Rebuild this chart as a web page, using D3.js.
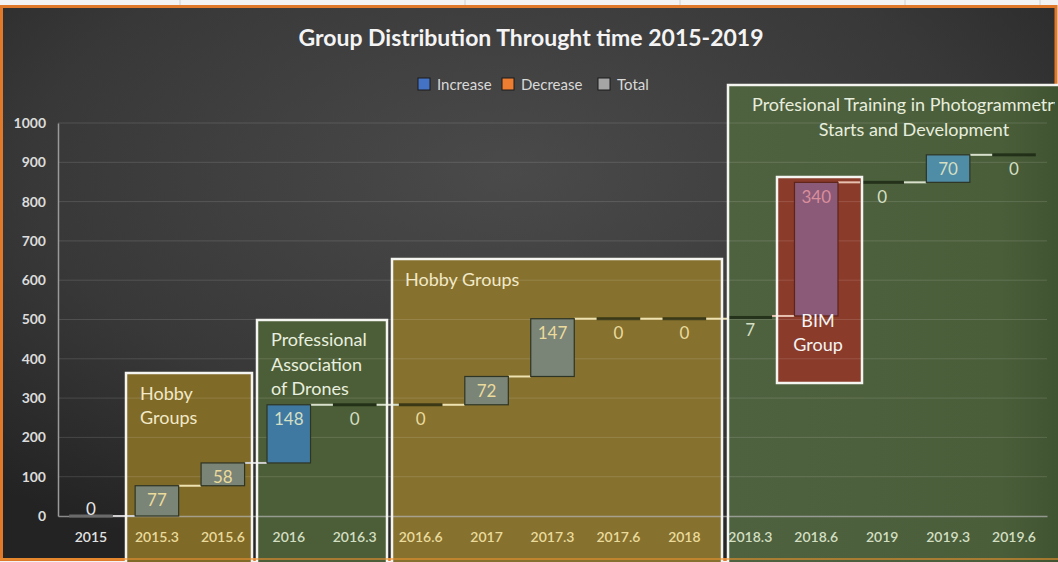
<!DOCTYPE html>
<html><head><meta charset="utf-8">
<script src="https://cdn.jsdelivr.net/npm/d3@7"></script>
<style>html,body{margin:0;padding:0;background:#fff;}svg{display:block;font-family:Lato,"Open Sans",sans-serif;}</style>
</head><body>
<svg id="c" width="1058" height="562"></svg>
<script>
// ---- data ----
const categories = ["2015","2015.3","2015.6","2016","2016.3","2016.6","2017","2017.3","2017.6","2018","2018.3","2018.6","2019","2019.3","2019.6"];
const changes = [0,77,58,148,0,0,72,147,0,0,7,340,0,70,0];
const yTicks = [0,100,200,300,400,500,600,700,800,900,1000];
const legendItems = ["Increase","Decrease","Total"];
const title = "Group Distribution Throught time 2015-2019";
const boxTexts = [
  ["Hobby","Groups"],
  ["Professional","Association","of Drones"],
  ["Hobby Groups"],
  ["Profesional Training in Photogrammetry","Starts and Development"],
  ["BIM","Group"]
];

// ---- layout ----
const W = 1058, H = 562;
const svg = d3.select("#c");
const defs = svg.append("defs");
const rg = defs.append("radialGradient").attr("id","bg").attr("cx","0.48").attr("cy","0.3").attr("r","0.75");
rg.append("stop").attr("offset","0").attr("stop-color","#4a4a4a");
rg.append("stop").attr("offset","0.6").attr("stop-color","#383838");
rg.append("stop").attr("offset","1").attr("stop-color","#232323");
const gg = defs.append("linearGradient").attr("id","greenTrain").attr("x1","0").attr("x2","1");
gg.append("stop").attr("offset","0").attr("stop-color","#4f6240");
gg.append("stop").attr("offset","0.8").attr("stop-color","#4a5e3a");
gg.append("stop").attr("offset","1").attr("stop-color","#3f5230");
defs.append("clipPath").attr("id","frameClip").append("rect").attr("x",0).attr("y",0).attr("width",1055).attr("height",H);

// spreadsheet strip
svg.append("rect").attr("width",W).attr("height",H).attr("fill","#f3f3f3");
[180,465,680,905,1040].forEach(x=>svg.append("line").attr("x1",x).attr("x2",x).attr("y1",0).attr("y2",7).attr("stroke","#d0d0d0"));
// chart frame
svg.append("rect").attr("x",1.5).attr("y",6.5).attr("width",W-3.5).attr("height",553).attr("fill","url(#bg)")
  .attr("stroke","#e07a2a").attr("stroke-width",3);

const x = d3.scaleBand().domain(categories).range([58,1047]).paddingInner(0.34).paddingOuter(0.17);
const y = d3.scaleLinear().domain([0,1000]).range([516,123]);

// waterfall stacks
let run = 0;
const bars = categories.map((c,i)=>{const s=run; run+=changes[i]; return {cat:c, v:changes[i], start:s, end:run, i};});

// annotation boxes (pixel layout)
const boxes = [
  {x:126,y:373,w:126,h:200,fill:"#806a28"},
  {x:257,y:320,w:130,h:253,fill:"#4c5e37"},
  {x:392,y:259,w:330,h:314,fill:"#86712f"},
  {x:728,y:85,w:340,h:488,fill:"url(#greenTrain)"},
  {x:777,y:177,w:85,h:206,fill:"#8b3b2a"}
];
function regionOf(px,py){
  if(px>=777&&px<=862&&(py===undefined||(py>=177&&py<=383))) return "bim";
  if(px>=728) return "green";
  if(px>=392&&px<=722) return "gold";
  if(px>=257&&px<=387) return "green2";
  if(px>=126&&px<=252) return "gold";
  return "dark";
}
const labelCol = {dark:"#e2e2e2",gold:"#eadb9c",green:"#d3dfc2",green2:"#d3dfc2",bim:"#d98e9c"};

// box fills
svg.append("g").selectAll("rect").data(boxes).join("rect")
  .attr("x",d=>d.x).attr("y",d=>d.y).attr("width",d=>d.w).attr("height",d=>d.h).attr("fill",d=>d.fill);

// gridlines
svg.append("g").selectAll("line").data(yTicks.slice(1)).join("line")
  .attr("x1",58).attr("x2",1047).attr("y1",d=>y(d)).attr("y2",d=>y(d))
  .attr("stroke","#ffffff").attr("stroke-opacity",0.13).attr("stroke-width",1);

// axes
const yAxis = svg.append("g").attr("transform","translate(58,0)")
  .call(d3.axisLeft(y).tickValues(yTicks).tickFormat(d3.format("d")).tickSize(0).tickPadding(12));
yAxis.select(".domain").attr("stroke","#9a9a9a").attr("stroke-width",1.5);
yAxis.selectAll("text").attr("fill","#dcdcdc").attr("font-size",14).attr("font-weight",700).attr("font-family","Lato");
const xAxis = svg.append("g").attr("transform","translate(0,516)").call(d3.axisBottom(x).tickSize(0).tickPadding(16));
xAxis.select(".domain").attr("stroke","#b5b5b5").attr("stroke-opacity",0.7).attr("stroke-width",1.5);
xAxis.selectAll("text").attr("font-size",14).attr("font-weight",600).attr("font-family","Lato")
  .attr("fill",d=>labelCol[regionOf(x(d)+x.bandwidth()/2,538)]);

// connectors
const connCol = {dark:"#cfcfcf",gold:"#eee2b0",green:"#d8e0cc",green2:"#d8e0cc",bim:"#e8c0b0"};
svg.append("g").selectAll("line").data(bars.slice(0,-1)).join("line")
  .attr("x1",d=>x(d.cat)+x.bandwidth()).attr("x2",d=>x(categories[d.i+1]))
  .attr("y1",d=>y(d.end)).attr("y2",d=>y(d.end))
  .attr("stroke",d=>connCol[regionOf(x(d.cat)+x.bandwidth()+10, y(d.end))]).attr("stroke-width",2);

// bars
const barFill = {dark:"#888888",gold:"#7a8477",green2:"#3f79a2",green:"#4f8ca6",bim:"#8a5a78"};
svg.append("g").selectAll("rect").data(bars).join("rect")
  .attr("x",d=>x(d.cat)).attr("width",x.bandwidth())
  .attr("y",d=>d.v===0? y(d.end)-1.5 : y(d.end))
  .attr("height",d=>d.v===0? 3 : Math.max(3,y(d.start)-y(d.end)))
  .attr("fill",d=>{const r=regionOf(x(d.cat)+x.bandwidth()/2); if(d.v<10) return r==="dark"?"#6a6a6a":"rgba(10,20,5,0.6)"; return barFill[r];})
  .attr("stroke",d=>{const r=regionOf(x(d.cat)+x.bandwidth()/2); if(d.v<10) return "none"; return r==="bim"?"#5e2418":"#2e3524";})
  .attr("stroke-width",1.2);

// value labels
svg.append("g").selectAll("text").data(bars).join("text")
  .attr("x",d=>x(d.cat)+x.bandwidth()/2)
  .attr("y",d=>d.i===0? y(d.end)-8 : y(d.end)+14)
  .attr("text-anchor","middle").attr("dominant-baseline","central")
  .attr("font-size",17).attr("font-family","Lato")
  .attr("fill",d=>d.i===0?"#e8e8e8":labelCol[regionOf(x(d.cat)+x.bandwidth()/2)])
  .text(d=>d.v);

// box borders
svg.append("g").selectAll("rect").data(boxes).join("rect")
  .attr("x",d=>d.x).attr("y",d=>d.y).attr("width",d=>d.w).attr("height",d=>d.h)
  .attr("fill","none").attr("stroke","#f4f4f0").attr("stroke-width",2.5);
svg.append("line").attr("x1",0).attr("x2",W).attr("y1",559).attr("y2",559).attr("stroke","#e8902e").attr("stroke-width",2).attr("stroke-opacity",0.6);

// box texts
const textSpecs = [
  {x:140,y:393,anchor:"start",col:"#f2e9c6",lh:24},
  {x:271,y:339,anchor:"start",col:"#e9efdf",lh:24.5},
  {x:405,y:279,anchor:"start",col:"#f2e9c6",lh:24},
  {x:914,y:104,anchor:"middle",col:"#e8eede",lh:25},
  {x:818,y:320,anchor:"middle",col:"#f4f4f4",lh:24}
];
textSpecs.forEach((s,k)=>{
  const t = svg.append("text").attr("font-size",18).attr("font-family","Lato").attr("fill",s.col).attr("text-anchor",s.anchor);
  if(k===3) t.attr("clip-path","url(#frameClip)");
  boxTexts[k].forEach((line,j)=>{
    const ts = t.append("tspan").attr("x",s.x).attr("y",s.y+j*s.lh).attr("dominant-baseline","central").text(line);
    if(k===3&&j===0) ts.attr("x",752).attr("text-anchor","start");
  });
});

// title
svg.append("text").attr("x",531).attr("y",37).attr("text-anchor","middle").attr("dominant-baseline","central")
  .attr("font-size",23).attr("font-weight",700).attr("font-family","Lato").attr("fill","#f4f4f4").text(title);

// legend
const legCols = ["#4472c4","#ed7d31","#a5a5a5"];
const legX = [418,502,598];
const lg = svg.append("g");
legendItems.forEach((name,i)=>{
  lg.append("rect").attr("x",legX[i]).attr("y",78).attr("width",12).attr("height",12).attr("fill",legCols[i]).attr("stroke","#1a1a1a").attr("stroke-width",1);
  lg.append("text").attr("x",legX[i]+19).attr("y",84).attr("dominant-baseline","central").attr("font-size",15)
    .attr("font-family","Lato").attr("fill","#d9d9d9").text(name);
});
</script>
</body></html>
